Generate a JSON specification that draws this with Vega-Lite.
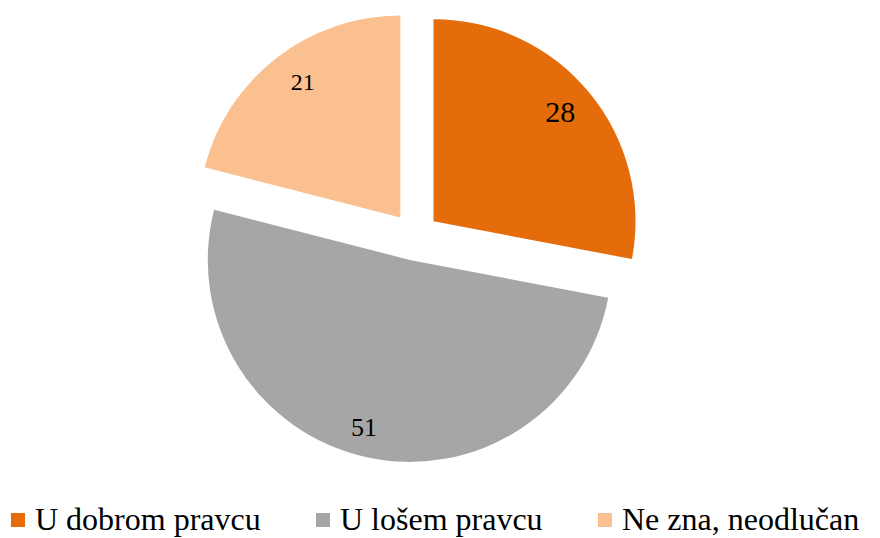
{
  "$schema": "https://vega.github.io/schema/vega-lite/v6.json",
  "width": 830,
  "height": 473,
  "autosize": {"type": "none"},
  "padding": {"left": 0, "top": 0, "right": 50, "bottom": 65},
  "background": "white",
  "config": {"view": {"stroke": null}},
  "data": {
    "values": [
      {"category": "U dobrom pravcu", "value": 28},
      {"category": "U lošem pravcu", "value": 51},
      {"category": "Ne zna, neodlučan", "value": 21}
    ]
  },
  "transform": [{"window": [{"op": "row_number", "as": "rank"}]}],
  "encoding": {
    "theta": {"field": "value", "type": "quantitative", "stack": true},
    "order": {"field": "rank", "type": "quantitative", "sort": "ascending"},
    "detail": {"field": "category", "type": "nominal"}
  },
  "layer": [
    {
      "mark": {"type": "arc", "radius": 202, "xOffset": 18.5, "yOffset": -15.3},
      "encoding": {
        "color": {
          "field": "category", "type": "nominal",
          "scale": {"domain": ["U dobrom pravcu", "U lošem pravcu", "Ne zna, neodlučan"], "range": ["#E46C0A", "#A6A6A6", "#FAC090"]},
          "legend": {
            "orient": "none", "legendX": 2, "legendY": 504, "direction": "horizontal", "title": null,
            "symbolType": "square", "symbolSize": 196, "symbolStrokeWidth": 0,
            "labelFont": "Liberation Serif", "labelFontSize": 32, "labelColor": "#000000",
            "labelOffset": 1, "columnPadding": 46, "labelLimit": 500, "padding": 0
          }
        },
        "opacity": {"condition": {"test": "datum.category === 'U dobrom pravcu'", "value": 1}, "value": 0}
      }
    },
    {
      "mark": {"type": "arc", "radius": 202, "xOffset": -5.2, "yOffset": 23.4},
      "encoding": {
        "color": {"field": "category", "type": "nominal"},
        "opacity": {"condition": {"test": "datum.category === 'U lošem pravcu'", "value": 1}, "value": 0}
      }
    },
    {
      "mark": {"type": "arc", "radius": 202, "xOffset": -14.7, "yOffset": -19.0},
      "encoding": {
        "color": {"field": "category", "type": "nominal"},
        "opacity": {"condition": {"test": "datum.category === 'Ne zna, neodlučan'", "value": 1}, "value": 0}
      }
    },
    {
      "mark": {"type": "text", "radius": 167, "xOffset": 16.5, "yOffset": -17.3, "font": "Liberation Serif", "fontSize": 30, "color": "#000000", "baseline": "middle", "align": "center"},
      "encoding": {
        "text": {"field": "value", "type": "quantitative"},
        "opacity": {"condition": {"test": "datum.category === 'U dobrom pravcu'", "value": 1}, "value": 0}
      }
    },
    {
      "mark": {"type": "text", "radius": 170, "xOffset": -14, "yOffset": 26, "font": "Liberation Serif", "fontSize": 26, "color": "#000000", "baseline": "middle", "align": "center"},
      "encoding": {
        "text": {"field": "value", "type": "quantitative"},
        "opacity": {"condition": {"test": "datum.category === 'U lošem pravcu'", "value": 1}, "value": 0}
      }
    },
    {
      "mark": {"type": "text", "radius": 167, "xOffset": -10, "yOffset": -22, "font": "Liberation Serif", "fontSize": 24, "color": "#000000", "baseline": "middle", "align": "center"},
      "encoding": {
        "text": {"field": "value", "type": "quantitative"},
        "opacity": {"condition": {"test": "datum.category === 'Ne zna, neodlučan'", "value": 1}, "value": 0}
      }
    }
  ]
}
